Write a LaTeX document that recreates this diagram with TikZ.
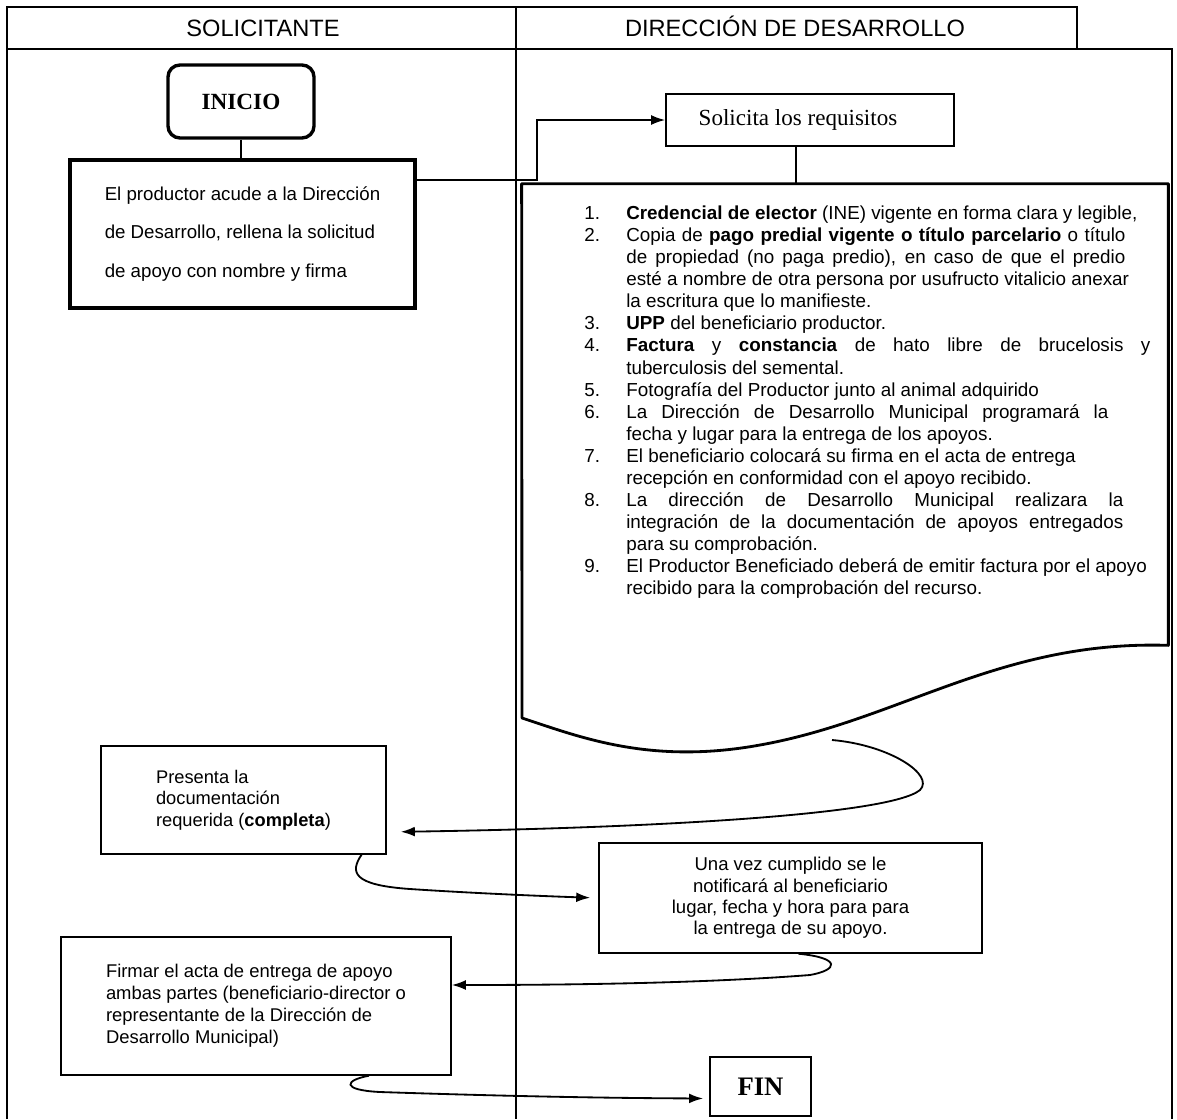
\documentclass[tikz,border=0pt]{standalone}
\usepackage{fontspec}
\setmainfont{Liberation Sans}
\newfontfamily\timesfont{Liberation Serif}
\usetikzlibrary{arrows.meta,positioning}
\newcommand{\spread}[2]{\makebox[#1][s]{#2}}

\begin{document}
\begin{tikzpicture}[
    x=0.025cm, y=-0.025cm,
    frame/.style={draw, line width=1pt},
    lane/.style={anchor=base, font=\fontsize{16.8}{20}\selectfont},
    endbox/.style={rectangle, draw, line width=2.4pt, font=\timesfont\bfseries\fontsize{16.5}{18}\selectfont},
    thickbox/.style={rectangle, draw, line width=2.4pt, align=left},
    thinbox/.style={rectangle, draw, line width=1pt},
    docline/.style={line width=2pt, line join=round},
    arrow/.style={-{Latex[length=10pt,width=7pt]}, line width=1.3pt},
    link/.style={line width=1pt}
]
    \useasboundingbox (0,0) rectangle (1177,1119);

    % lanes
    \draw[frame] (7,1119) -- (7,7) -- (1077,7) -- (1077,49);
    \draw[frame] (7,49) -- (1172,49) -- (1172,1119);
    \draw[frame] (516,7) -- (516,1119);
    \node[lane] (hsol) at (263,36) {SOLICITANTE};
    \node[lane] (hdir) at (795,36) {DIRECCIÓN DE DESARROLLO};

    % solicitante
    \node[endbox, rounded corners=0.3cm, minimum width=3.65cm, minimum height=1.825cm] (ini) at (241,101.5) {INICIO};
    \node[thickbox, minimum width=8.625cm, minimum height=3.7cm, font=\fontsize{13.3}{27.3}\selectfont] (prod) at (242.5,234)
        {El productor acude a la Dirección\\de Desarrollo, rellena la solicitud\\de apoyo con nombre y firma};
    \draw[link] (ini.south) -- (ini.south |- prod.north);

    % direccion
    \node[thinbox, minimum width=7.2cm, minimum height=1.3cm, font=\timesfont\fontsize{16.4}{18}\selectfont] (sol) at (810,120)
        {\hspace*{-0.6cm}Solicita los requisitos};
    \coordinate (bend) at (537,180);
    \draw[arrow] (bend -| prod.east) -- (bend) |- (sol.west);

    % requisitos (documento)
    \node[minimum width=16.15cm, minimum height=11.525cm, inner sep=0pt] (doc) at (845,414.5) {};
    \draw[docline] (doc.south east) -- (doc.north east) -- (doc.north west) -- (522,718)
        .. controls (580,737) and (650,765) .. (760,745)
        .. controls (900,720) and (1000,640) .. (doc.south east) -- cycle;
    \draw[link] ([xshift=-0.35cm]sol.south) -- ([xshift=-0.35cm]sol.south |- doc.north);
    \node[anchor=base west, inner sep=0pt, font=\fontsize{13.4}{15.7}\selectfont] (reqs) at (584,219.5) {%
        \begin{tabular}[t]{@{}p{1.05cm}@{}l@{}}
        1. & \textbf{Credencial de elector} (INE) vigente en forma clara y legible,\\
        2. & \spread{12.475cm}{Copia de \textbf{pago predial vigente o título parcelario} o título}\\
           & \spread{12.475cm}{de propiedad (no paga predio), en caso de que el predio}\\
           & esté a nombre de otra persona por usufructo vitalicio anexar\\
           & la escritura que lo manifieste.\\
        3. & \textbf{UPP} del beneficiario productor.\\
        4. & \spread{13.1cm}{\textbf{Factura} y \textbf{constancia} de hato libre de brucelosis y}\\
           & tuberculosis del semental.\\
        5. & Fotografía del Productor junto al animal adquirido\\
        6. & \spread{12.05cm}{La Dirección de Desarrollo Municipal programará la}\\
           & fecha y lugar para la entrega de los apoyos.\\
        7. & El beneficiario colocará su firma en el acta de entrega\\
           & recepción en conformidad con el apoyo recibido.\\
        8. & \spread{12.425cm}{La dirección de Desarrollo Municipal realizara la}\\
           & \spread{12.425cm}{integración de la documentación de apoyos entregados}\\
           & para su comprobación.\\
        9. & El Productor Beneficiado deberá de emitir factura por el apoyo\\
           & recibido para la comprobación del recurso.
        \end{tabular}};

    % entrega
    \node[thinbox, align=left, minimum width=7.125cm, minimum height=2.7cm, font=\fontsize{13}{15.2}\selectfont] (pres) at (243.5,800)
        {Presenta la\\documentación\\requerida (\textbf{completa})};
    \node[thinbox, align=center, minimum width=9.575cm, minimum height=2.75cm, font=\fontsize{13.2}{15.1}\selectfont] (una) at (790.5,898)
        {Una vez cumplido se le\\notificará al beneficiario\\lugar, fecha y hora para para\\la entrega de su apoyo.};
    \node[thinbox, align=left, minimum width=9.75cm, minimum height=3.45cm, font=\fontsize{13.1}{15.6}\selectfont] (firm) at (256,1006)
        {Firmar el acta de entrega de apoyo\\ambas partes (beneficiario-director o\\representante de la Dirección de\\Desarrollo Municipal)};
    \node[endbox, line width=1.2pt, minimum width=2.525cm, minimum height=1.475cm, font=\timesfont\bfseries\fontsize{19}{21}\selectfont] (fin) at (760.5,1086.5) {FIN};

    \coordinate (s1) at (832,740);
    \draw[arrow, shorten >=0.35cm] (s1) .. controls (890,745) and (935,775) .. (920,790)
        .. controls (890,815) and (650,828) .. ([yshift=-0.8cm]pres.east);
    \draw[arrow, shorten >=0.2cm] ([xshift=2.95cm]pres.south) .. controls (350,872) and (352,885) .. (410,889)
        .. controls (470,893) and (540,896) .. (una.west);
    \draw[arrow] ([xshift=0.2cm]una.south) .. controls (842,958) and (838,970) .. (810,975)
        .. controls (720,982) and (600,985) .. ([yshift=0.525cm]firm.east);
    \draw[arrow, shorten >=0.15cm] ([xshift=2.825cm]firm.south) .. controls (345,1080) and (340,1090) .. (380,1092)
        .. controls (500,1096) and (600,1098) .. ([yshift=-0.3cm]fin.west);
\end{tikzpicture}
\end{document}
